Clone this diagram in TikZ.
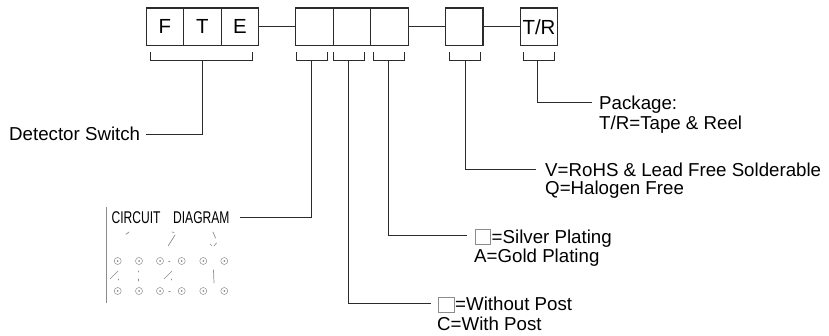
\documentclass[tikz,border=0pt]{standalone}
\usepackage{fontspec}
\setmainfont{Liberation Sans}
\definecolor{ink}{HTML}{2E2A2A}
\definecolor{smudge}{HTML}{8C8C8C}
\tikzset{
  cell/.style={draw=ink,line width=1.1pt,minimum width=37.5pt,minimum height=37.5pt,inner sep=0pt,anchor=north west,font=\fontsize{20.4}{22}\selectfont,text=black},
  lbl/.style={anchor=base west,inner sep=0pt,font=\fontsize{18.7}{20}\selectfont,text=black},
  diag/.style={anchor=base west,inner sep=0pt,xscale=.71,font=\fontsize{17}{19}\selectfont,text=black},
  wire/.style={draw=ink,line width=1.1pt},
  sq/.style={draw=smudge,line width=1pt,fill=white,minimum width=15.5pt,minimum height=15.5pt,inner sep=0pt,anchor=north west},
  pin/.style={draw=smudge,line width=.5pt,circle,minimum size=7pt,inner sep=0pt},
  smear/.style={draw=smudge,line width=.7pt,line cap=round}
}
\newcommand{\brk}[4]{% left x, right x, stem x, name
  \coordinate (#4) at (#3,60.5);
  \draw[wire] (#1,52) -- (#1,60.5) -- (#2,60.5) -- (#2,52);
}
\begin{document}
\begin{tikzpicture}[x=1pt,y=-1pt]
\useasboundingbox (0,0) rectangle (829,336);
\node[cell] (F) at (145.5,7.5) {F};
\node[cell] (T) at (183,7.5) {T};
\node[cell] (E) at (220.5,7.5) {E};
\node[cell] (b1) at (295.2,7.5) {};
\node[cell] (b2) at (332.7,7.5) {};
\node[cell] (b3) at (370.2,7.5) {};
\node[cell] (b4) at (444.9,7.5) {};
\node[cell] (tr) at (519.7,7.5) {T/R};
\draw[wire] (E.east) -- (b1.west);
\draw[wire] (b3.east) -- (b4.west);
\draw[wire] (b4.east) -- (tr.west);
\brk{150.7}{252.7}{202.3}{sF}
\brk{296.7}{327.3}{311.3}{s1}
\brk{333.6}{364.2}{348.5}{s2}
\brk{373.7}{404.3}{388.5}{s3}
\brk{449.7}{480.3}{465.7}{s4}
\brk{523.7}{554.5}{537.7}{s5}
\node[lbl] (ldet) at (9,141) {Detector Switch};
\node[lbl] (lpk) at (599,110) {Package:};
\node[lbl] (ltr) at (599,130) {T/R=Tape \& Reel};
\node[lbl] (lv) at (545,176.7) {V=RoHS \& Lead Free Solderable};
\node[lbl] (lq) at (545,195) {Q=Halogen Free};
\node[sq] (qs) at (474.5,229) {};
\node[lbl] (ls) at (491.5,243.3) {=Silver Plating};
\node[lbl] (la) at (474,262.7) {A=Gold Plating};
\node[sq] (qw) at (438,296.7) {};
\node[lbl] (lw) at (455,311) {=Without Post};
\node[lbl] (lc) at (437,330.7) {C=With Post};
\coordinate (eF) at (146,134.5);
\coordinate (e1) at (240,217.5);
\coordinate (e2) at (430.7,303.5);
\coordinate (e3) at (466.7,235.5);
\coordinate (e4) at (535.7,169.5);
\coordinate (e5) at (592.3,102.5);
\draw[wire] (sF) |- (eF);
\draw[wire] (s1) |- (e1);
\draw[wire] (s2) |- (e2);
\draw[wire] (s3) |- (e3);
\draw[wire] (s4) |- (e4);
\draw[wire] (s5) |- (e5);
% circuit diagram
\draw[draw=smudge,line width=1pt] (106.7,206.7) -- (106.7,303);
\node[diag] (c1) at (111.5,223.3) {CIRCUIT};
\node[diag] (c2) at (173,223.3) {DIAGRAM};
\foreach \n/\x in {a/117.7,b/139,c/160,d/181.7,e/203.3,f/224.3}{
  \node[pin] (p\n) at (\x,261) {};
  \node[pin] (q\n) at (\x,291) {};
  \fill[smudge] (p\n.center) circle (1pt);
  \fill[smudge] (q\n.center) circle (1pt);
}
\draw[smear] (pc.east) ++(5,0) -- ++(1.2,0);
\draw[smear] (qc.east) ++(5,0) -- ++(1.5,0);
\draw[smear] (126,234.3) -- (129,232);
\draw[smear] (168.3,245.7) -- (175,235);
\draw[smear] (172,232) -- (174,232.5);
\draw[smear] (213,232) -- (215.5,238);
\draw[smear] (210,244) -- (212,246);
\draw[smear] (214,246) -- (216.5,243);
\draw[smear] (110,279) -- (118,271);
\draw[smear] (118,279) -- (118,280);
\draw[smear] (138.7,271) -- (138.7,272);
\draw[smear] (138.7,279) -- (138.7,281);
\draw[smear] (164,279) -- (172,271);
\draw[smear] (171,279) -- (171,280);
\draw[smear] (213.5,270) -- (214,283);
\end{tikzpicture}
\end{document}
